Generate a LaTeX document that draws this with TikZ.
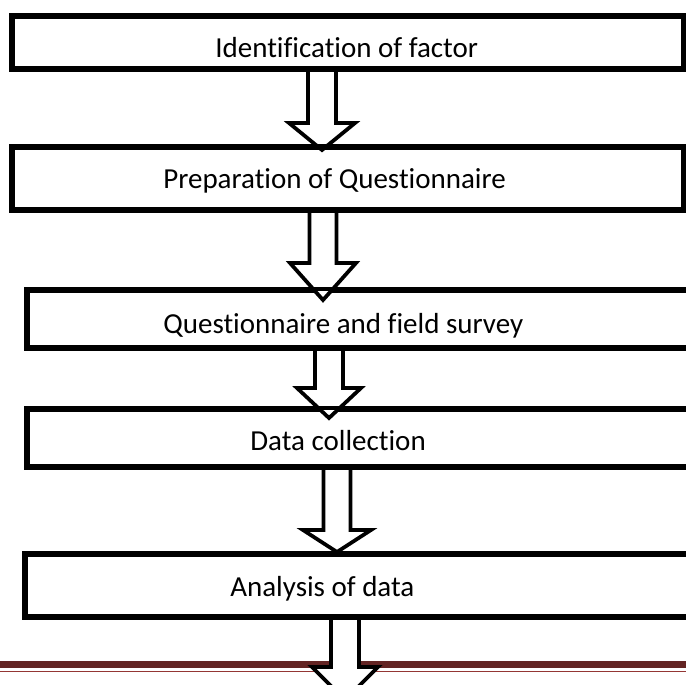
\documentclass[tikz,border=0pt]{standalone}
\usepackage{fontspec}
\setmainfont{Carlito}[Ligatures={NoCommon}]
\usepackage{xcolor}
\definecolor{barred}{HTML}{632423}
\definecolor{barline}{HTML}{943634}

\begin{document}
\begin{tikzpicture}[x=0.02cm, y=-0.02cm,
    stepbox/.style={draw=black, line width=0.085cm, inner sep=0pt},
    steptext/.style={anchor=base west, inner sep=0pt, font=\fontsize{16.5}{19}\selectfont},
    barrow/.style={draw=black, fill=white, line width=0.075cm, line join=miter}]

    \useasboundingbox (0,0) rectangle (686,684);
    \clip (0,0) rectangle (686,684);

    % cajas de los pasos
    \node[stepbox, minimum width=13.4cm, minimum height=1.02cm] (b1) at (348,42.5) {};
    \node[stepbox, minimum width=13.4cm, minimum height=1.22cm] (b2) at (348,178.5) {};
    \node[stepbox, minimum width=13.84cm, minimum height=1.12cm] (b3) at (374,319) {};
    \node[stepbox, minimum width=13.84cm, minimum height=1.12cm] (b4) at (374,438) {};
    \node[stepbox, minimum width=13.88cm, minimum height=1.22cm] (b5) at (373,585.5) {};

    % puntas de las flechas
    \coordinate (t1) at (322,150);
    \coordinate (t2) at (323,300);
    \coordinate (t3) at (329,418);
    \coordinate (t4) at (337,552);
    \coordinate (t5) at (345,700);

    % barra del pie de pagina
    \fill[barred] (0,661) rectangle (686,668);
    \draw[barline, line width=0.02cm] (0,671) -- (686,671);

    % flechas
    \draw[barrow] ([xshift=-0.28cm]t1 |- b1.south) |- ([shift={(-33,-27)}]t1) -- (t1) -- ([shift={(33,-27)}]t1) -| ([xshift=0.28cm]t1 |- b1.south);
    \draw[barrow] ([xshift=-0.27cm]t2 |- b2.south) |- ([shift={(-33,-37)}]t2) -- (t2) -- ([shift={(33,-37)}]t2) -| ([xshift=0.27cm]t2 |- b2.south);
    \draw[barrow] ([xshift=-0.28cm]t3 |- b3.south) |- ([shift={(-32,-30)}]t3) -- (t3) -- ([shift={(32,-30)}]t3) -| ([xshift=0.28cm]t3 |- b3.south);
    \draw[barrow] ([xshift=-0.27cm]t4 |- b4.south) |- ([shift={(-34,-22)}]t4) -- (t4) -- ([shift={(34,-22)}]t4) -| ([xshift=0.27cm]t4 |- b4.south);
    \draw[barrow] ([xshift=-0.28cm]t5 |- b5.south) |- ([shift={(-33,-33)}]t5) -- (t5) -- ([shift={(33,-33)}]t5) -| ([xshift=0.28cm]t5 |- b5.south);

    % bordes de las cajas encima
    \draw[line width=0.085cm] (b1.north west) rectangle (b1.south east);
    \draw[line width=0.085cm] (b2.north west) rectangle (b2.south east);
    \draw[line width=0.085cm] (b3.north west) rectangle (b3.south east);
    \draw[line width=0.085cm] (b4.north west) rectangle (b4.south east);
    \draw[line width=0.085cm] (b5.north west) rectangle (b5.south east);

    % textos
    \node[steptext] (l1) at (215,57) {Identification of factor};
    \node[steptext] (l2) at (163,188) {Preparation of Questionnaire};
    \node[steptext] (l3) at (163,333) {Questionnaire and field survey};
    \node[steptext] (l4) at (250,450) {Data collection};
    \node[steptext] (l5) at (230,596) {Analysis of data};

\end{tikzpicture}
\end{document}
